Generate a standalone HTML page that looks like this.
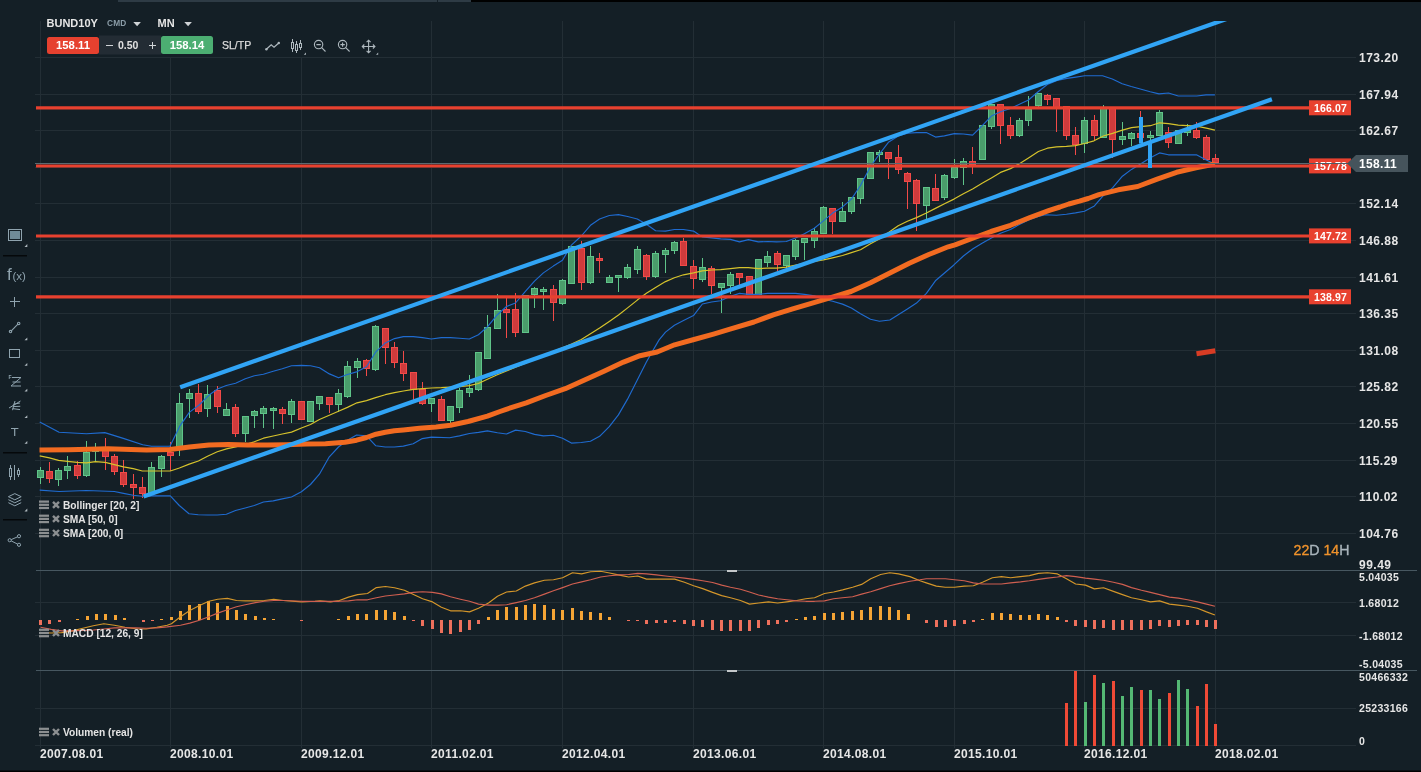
<!DOCTYPE html>
<html lang="en"><head><meta charset="utf-8"><title>BUND10Y MN</title>
<style>html,body{margin:0;padding:0;background:#141f26;overflow:hidden}body{width:1421px;height:772px;position:relative;font-family:"Liberation Sans", Arial, sans-serif}svg{position:absolute;left:0;top:0;display:block;will-change:transform}text{font-family:"Liberation Sans", Arial, sans-serif}</style>
</head><body>
<svg width="1421" height="772" viewBox="0 0 1421 772">
<rect x="0" y="0" width="1421" height="772" fill="#141f26"/>
<rect x="118" y="0" width="319" height="2" fill="#2e3b45"/>
<rect x="438" y="0" width="33" height="2" fill="#2e3b45"/>
<rect x="471" y="0" width="950" height="2" fill="#000"/>
<rect x="0" y="770" width="1421" height="1" fill="#0a1014"/>
<rect x="0" y="771" width="1421" height="1" fill="#000"/>
<g stroke="#232e35" stroke-width="1" shape-rendering="crispEdges">
<line x1="40.5" y1="21" x2="40.5" y2="748"/>
<line x1="170.5" y1="21" x2="170.5" y2="748"/>
<line x1="301.5" y1="21" x2="301.5" y2="748"/>
<line x1="431.5" y1="21" x2="431.5" y2="748"/>
<line x1="562.5" y1="21" x2="562.5" y2="748"/>
<line x1="693.5" y1="21" x2="693.5" y2="748"/>
<line x1="823.5" y1="21" x2="823.5" y2="748"/>
<line x1="954.5" y1="21" x2="954.5" y2="748"/>
<line x1="1084.5" y1="21" x2="1084.5" y2="748"/>
<line x1="1215.5" y1="21" x2="1215.5" y2="748"/>
<line x1="35" y1="57.5" x2="1356" y2="57.5"/>
<line x1="35" y1="94.5" x2="1356" y2="94.5"/>
<line x1="35" y1="130.5" x2="1356" y2="130.5"/>
<line x1="35" y1="167.5" x2="1356" y2="167.5"/>
<line x1="35" y1="203.5" x2="1356" y2="203.5"/>
<line x1="35" y1="240.5" x2="1356" y2="240.5"/>
<line x1="35" y1="277.5" x2="1356" y2="277.5"/>
<line x1="35" y1="313.5" x2="1356" y2="313.5"/>
<line x1="35" y1="350.5" x2="1356" y2="350.5"/>
<line x1="35" y1="386.5" x2="1356" y2="386.5"/>
<line x1="35" y1="423.5" x2="1356" y2="423.5"/>
<line x1="35" y1="460.5" x2="1356" y2="460.5"/>
<line x1="35" y1="496.5" x2="1356" y2="496.5"/>
<line x1="35" y1="533.5" x2="1356" y2="533.5"/>
<line x1="35" y1="602.5" x2="1356" y2="602.5"/>
<line x1="35" y1="635.5" x2="1356" y2="635.5"/>
<line x1="35" y1="708.5" x2="1356" y2="708.5"/>
<line x1="35" y1="745.5" x2="1356" y2="745.5"/>
</g>
<g stroke="#475760" stroke-width="1" shape-rendering="crispEdges">
<line x1="36" y1="570.5" x2="1417" y2="570.5"/>
<line x1="36" y1="670.5" x2="1417" y2="670.5"/>
</g>
<rect x="727" y="570" width="10" height="2" fill="#c4c8ca"/>
<rect x="727" y="670" width="10" height="2" fill="#c4c8ca"/>
<defs><clipPath id="mc"><rect x="35" y="21" width="1330" height="549"/></clipPath></defs>
<g clip-path="url(#mc)">
<g shape-rendering="crispEdges">
<rect x="40" y="467" width="1" height="17" fill="#5fc489"/>
<rect x="37.5" y="470.5" width="6" height="7" fill="#4a9d6b" stroke="#5fc489" stroke-width="1"/>
<rect x="49" y="462" width="1" height="21" fill="#f24a48"/>
<rect x="46.5" y="471.5" width="6" height="7" fill="#d03b3c" stroke="#f24a48" stroke-width="1"/>
<rect x="58" y="468" width="1" height="18" fill="#5fc489"/>
<rect x="55.5" y="470.5" width="6" height="9" fill="#4a9d6b" stroke="#5fc489" stroke-width="1"/>
<rect x="67" y="456" width="1" height="23" fill="#5fc489"/>
<rect x="64.5" y="466.5" width="6" height="4" fill="#4a9d6b" stroke="#5fc489" stroke-width="1"/>
<rect x="77" y="461" width="1" height="18" fill="#f24a48"/>
<rect x="74.5" y="465.5" width="6" height="10" fill="#d03b3c" stroke="#f24a48" stroke-width="1"/>
<rect x="86" y="441" width="1" height="36" fill="#5fc489"/>
<rect x="83.5" y="452.5" width="6" height="23" fill="#4a9d6b" stroke="#5fc489" stroke-width="1"/>
<rect x="95" y="443" width="1" height="18" fill="#5fc489"/>
<rect x="92.5" y="449.5" width="6" height="2" fill="#4a9d6b" stroke="#5fc489" stroke-width="1"/>
<rect x="105" y="438" width="1" height="32" fill="#f24a48"/>
<rect x="102.5" y="447.5" width="6" height="9" fill="#d03b3c" stroke="#f24a48" stroke-width="1"/>
<rect x="114" y="454" width="1" height="21" fill="#f24a48"/>
<rect x="111.5" y="456.5" width="6" height="15" fill="#d03b3c" stroke="#f24a48" stroke-width="1"/>
<rect x="123" y="460" width="1" height="27" fill="#f24a48"/>
<rect x="120.5" y="472.5" width="6" height="12" fill="#d03b3c" stroke="#f24a48" stroke-width="1"/>
<rect x="133" y="474" width="1" height="25" fill="#f24a48"/>
<rect x="130.5" y="484.5" width="6" height="3" fill="#d03b3c" stroke="#f24a48" stroke-width="1"/>
<rect x="142" y="477" width="1" height="21" fill="#f24a48"/>
<rect x="139.5" y="487.5" width="6" height="6" fill="#d03b3c" stroke="#f24a48" stroke-width="1"/>
<rect x="151" y="462" width="1" height="32" fill="#5fc489"/>
<rect x="148.5" y="467.5" width="6" height="26" fill="#4a9d6b" stroke="#5fc489" stroke-width="1"/>
<rect x="161" y="455" width="1" height="22" fill="#5fc489"/>
<rect x="158.5" y="456.5" width="6" height="12" fill="#4a9d6b" stroke="#5fc489" stroke-width="1"/>
<rect x="170" y="442" width="1" height="29" fill="#f24a48"/>
<rect x="167.5" y="452.5" width="6" height="3" fill="#d03b3c" stroke="#f24a48" stroke-width="1"/>
<rect x="179" y="393" width="1" height="63" fill="#5fc489"/>
<rect x="176.5" y="403.5" width="6" height="43" fill="#4a9d6b" stroke="#5fc489" stroke-width="1"/>
<rect x="189" y="389" width="1" height="29" fill="#5fc489"/>
<rect x="186.5" y="393.5" width="6" height="5" fill="#4a9d6b" stroke="#5fc489" stroke-width="1"/>
<rect x="198" y="384" width="1" height="30" fill="#f24a48"/>
<rect x="195.5" y="393.5" width="6" height="18" fill="#d03b3c" stroke="#f24a48" stroke-width="1"/>
<rect x="207" y="385" width="1" height="32" fill="#5fc489"/>
<rect x="204.5" y="394.5" width="6" height="14" fill="#4a9d6b" stroke="#5fc489" stroke-width="1"/>
<rect x="217" y="386" width="1" height="27" fill="#f24a48"/>
<rect x="214.5" y="390.5" width="6" height="16" fill="#d03b3c" stroke="#f24a48" stroke-width="1"/>
<rect x="226" y="403" width="1" height="13" fill="#5fc489"/>
<rect x="223.5" y="409.5" width="6" height="6" fill="#4a9d6b" stroke="#5fc489" stroke-width="1"/>
<rect x="235" y="404" width="1" height="33" fill="#f24a48"/>
<rect x="232.5" y="407.5" width="6" height="26" fill="#d03b3c" stroke="#f24a48" stroke-width="1"/>
<rect x="245" y="416" width="1" height="26" fill="#5fc489"/>
<rect x="242.5" y="416.5" width="6" height="17" fill="#4a9d6b" stroke="#5fc489" stroke-width="1"/>
<rect x="254" y="410" width="1" height="18" fill="#5fc489"/>
<rect x="251.5" y="411.5" width="6" height="4" fill="#4a9d6b" stroke="#5fc489" stroke-width="1"/>
<rect x="263" y="406" width="1" height="22" fill="#5fc489"/>
<rect x="260.5" y="408.5" width="6" height="5" fill="#4a9d6b" stroke="#5fc489" stroke-width="1"/>
<rect x="273" y="407" width="1" height="22" fill="#5fc489"/>
<rect x="270.5" y="408.5" width="6" height="2" fill="#4a9d6b" stroke="#5fc489" stroke-width="1"/>
<rect x="282" y="407" width="1" height="17" fill="#f24a48"/>
<rect x="279.5" y="409.5" width="6" height="4" fill="#d03b3c" stroke="#f24a48" stroke-width="1"/>
<rect x="291" y="399" width="1" height="24" fill="#5fc489"/>
<rect x="288.5" y="401.5" width="6" height="13" fill="#4a9d6b" stroke="#5fc489" stroke-width="1"/>
<rect x="301" y="401" width="1" height="19" fill="#f24a48"/>
<rect x="298.5" y="401.5" width="6" height="18" fill="#d03b3c" stroke="#f24a48" stroke-width="1"/>
<rect x="310" y="401" width="1" height="21" fill="#5fc489"/>
<rect x="307.5" y="401.5" width="6" height="20" fill="#4a9d6b" stroke="#5fc489" stroke-width="1"/>
<rect x="319" y="396" width="1" height="14" fill="#5fc489"/>
<rect x="316.5" y="396.5" width="6" height="7" fill="#4a9d6b" stroke="#5fc489" stroke-width="1"/>
<rect x="329" y="397" width="1" height="16" fill="#f24a48"/>
<rect x="326.5" y="397.5" width="6" height="7" fill="#d03b3c" stroke="#f24a48" stroke-width="1"/>
<rect x="338" y="389" width="1" height="23" fill="#5fc489"/>
<rect x="335.5" y="393.5" width="6" height="11" fill="#4a9d6b" stroke="#5fc489" stroke-width="1"/>
<rect x="347" y="361" width="1" height="37" fill="#5fc489"/>
<rect x="344.5" y="366.5" width="6" height="30" fill="#4a9d6b" stroke="#5fc489" stroke-width="1"/>
<rect x="357" y="358" width="1" height="20" fill="#5fc489"/>
<rect x="354.5" y="361.5" width="6" height="6" fill="#4a9d6b" stroke="#5fc489" stroke-width="1"/>
<rect x="366" y="359" width="1" height="17" fill="#f24a48"/>
<rect x="363.5" y="360.5" width="6" height="8" fill="#d03b3c" stroke="#f24a48" stroke-width="1"/>
<rect x="375" y="325" width="1" height="46" fill="#5fc489"/>
<rect x="372.5" y="326.5" width="6" height="43" fill="#4a9d6b" stroke="#5fc489" stroke-width="1"/>
<rect x="385" y="328" width="1" height="36" fill="#f24a48"/>
<rect x="382.5" y="328.5" width="6" height="19" fill="#d03b3c" stroke="#f24a48" stroke-width="1"/>
<rect x="394" y="342" width="1" height="26" fill="#f24a48"/>
<rect x="391.5" y="347.5" width="6" height="15" fill="#d03b3c" stroke="#f24a48" stroke-width="1"/>
<rect x="403" y="351" width="1" height="30" fill="#f24a48"/>
<rect x="400.5" y="363.5" width="6" height="10" fill="#d03b3c" stroke="#f24a48" stroke-width="1"/>
<rect x="413" y="372" width="1" height="28" fill="#f24a48"/>
<rect x="410.5" y="372.5" width="6" height="17" fill="#d03b3c" stroke="#f24a48" stroke-width="1"/>
<rect x="422" y="382" width="1" height="23" fill="#f24a48"/>
<rect x="419.5" y="389.5" width="6" height="14" fill="#d03b3c" stroke="#f24a48" stroke-width="1"/>
<rect x="431" y="398" width="1" height="14" fill="#5fc489"/>
<rect x="428.5" y="398.5" width="6" height="5" fill="#4a9d6b" stroke="#5fc489" stroke-width="1"/>
<rect x="441" y="396" width="1" height="25" fill="#f24a48"/>
<rect x="438.5" y="399.5" width="6" height="21" fill="#d03b3c" stroke="#f24a48" stroke-width="1"/>
<rect x="450" y="406" width="1" height="17" fill="#5fc489"/>
<rect x="447.5" y="406.5" width="6" height="14" fill="#4a9d6b" stroke="#5fc489" stroke-width="1"/>
<rect x="459" y="388" width="1" height="25" fill="#5fc489"/>
<rect x="456.5" y="390.5" width="6" height="17" fill="#4a9d6b" stroke="#5fc489" stroke-width="1"/>
<rect x="469" y="375" width="1" height="22" fill="#5fc489"/>
<rect x="466.5" y="388.5" width="6" height="4" fill="#4a9d6b" stroke="#5fc489" stroke-width="1"/>
<rect x="478" y="352" width="1" height="39" fill="#5fc489"/>
<rect x="475.5" y="352.5" width="6" height="37" fill="#4a9d6b" stroke="#5fc489" stroke-width="1"/>
<rect x="487" y="315" width="1" height="44" fill="#5fc489"/>
<rect x="484.5" y="327.5" width="6" height="31" fill="#4a9d6b" stroke="#5fc489" stroke-width="1"/>
<rect x="497" y="294" width="1" height="35" fill="#5fc489"/>
<rect x="494.5" y="310.5" width="6" height="18" fill="#4a9d6b" stroke="#5fc489" stroke-width="1"/>
<rect x="506" y="298" width="1" height="40" fill="#f24a48"/>
<rect x="503.5" y="309.5" width="6" height="3" fill="#d03b3c" stroke="#f24a48" stroke-width="1"/>
<rect x="515" y="293" width="1" height="44" fill="#f24a48"/>
<rect x="512.5" y="309.5" width="6" height="23" fill="#d03b3c" stroke="#f24a48" stroke-width="1"/>
<rect x="525" y="295" width="1" height="38" fill="#5fc489"/>
<rect x="522.5" y="295.5" width="6" height="37" fill="#4a9d6b" stroke="#5fc489" stroke-width="1"/>
<rect x="534" y="287" width="1" height="21" fill="#5fc489"/>
<rect x="531.5" y="288.5" width="6" height="6" fill="#4a9d6b" stroke="#5fc489" stroke-width="1"/>
<rect x="543" y="287" width="1" height="23" fill="#5fc489"/>
<rect x="540.5" y="289.5" width="6" height="2" fill="#4a9d6b" stroke="#5fc489" stroke-width="1"/>
<rect x="553" y="285" width="1" height="36" fill="#f24a48"/>
<rect x="550.5" y="289.5" width="6" height="13" fill="#d03b3c" stroke="#f24a48" stroke-width="1"/>
<rect x="562" y="279" width="1" height="26" fill="#5fc489"/>
<rect x="559.5" y="280.5" width="6" height="23" fill="#4a9d6b" stroke="#5fc489" stroke-width="1"/>
<rect x="571" y="246" width="1" height="38" fill="#5fc489"/>
<rect x="568.5" y="246.5" width="6" height="37" fill="#4a9d6b" stroke="#5fc489" stroke-width="1"/>
<rect x="581" y="241" width="1" height="49" fill="#f24a48"/>
<rect x="578.5" y="248.5" width="6" height="34" fill="#d03b3c" stroke="#f24a48" stroke-width="1"/>
<rect x="590" y="246" width="1" height="38" fill="#5fc489"/>
<rect x="587.5" y="256.5" width="6" height="26" fill="#4a9d6b" stroke="#5fc489" stroke-width="1"/>
<rect x="599" y="253" width="1" height="20" fill="#f24a48"/>
<rect x="596.5" y="258.5" width="6" height="2" fill="#d03b3c" stroke="#f24a48" stroke-width="1"/>
<rect x="609" y="275" width="1" height="8" fill="#5fc489"/>
<rect x="606.5" y="277.5" width="6" height="5" fill="#4a9d6b" stroke="#5fc489" stroke-width="1"/>
<rect x="618" y="275" width="1" height="17" fill="#5fc489"/>
<rect x="615.5" y="275.5" width="6" height="2" fill="#4a9d6b" stroke="#5fc489" stroke-width="1"/>
<rect x="627" y="264" width="1" height="15" fill="#5fc489"/>
<rect x="624.5" y="267.5" width="6" height="10" fill="#4a9d6b" stroke="#5fc489" stroke-width="1"/>
<rect x="637" y="246" width="1" height="28" fill="#5fc489"/>
<rect x="634.5" y="249.5" width="6" height="20" fill="#4a9d6b" stroke="#5fc489" stroke-width="1"/>
<rect x="646" y="254" width="1" height="26" fill="#f24a48"/>
<rect x="643.5" y="255.5" width="6" height="21" fill="#d03b3c" stroke="#f24a48" stroke-width="1"/>
<rect x="655" y="251" width="1" height="27" fill="#5fc489"/>
<rect x="652.5" y="253.5" width="6" height="23" fill="#4a9d6b" stroke="#5fc489" stroke-width="1"/>
<rect x="665" y="248" width="1" height="25" fill="#5fc489"/>
<rect x="662.5" y="250.5" width="6" height="4" fill="#4a9d6b" stroke="#5fc489" stroke-width="1"/>
<rect x="674" y="241" width="1" height="13" fill="#5fc489"/>
<rect x="671.5" y="242.5" width="6" height="8" fill="#4a9d6b" stroke="#5fc489" stroke-width="1"/>
<rect x="683" y="238" width="1" height="28" fill="#f24a48"/>
<rect x="680.5" y="241.5" width="6" height="24" fill="#d03b3c" stroke="#f24a48" stroke-width="1"/>
<rect x="693" y="260" width="1" height="29" fill="#f24a48"/>
<rect x="690.5" y="266.5" width="6" height="12" fill="#d03b3c" stroke="#f24a48" stroke-width="1"/>
<rect x="702" y="258" width="1" height="24" fill="#5fc489"/>
<rect x="699.5" y="267.5" width="6" height="12" fill="#4a9d6b" stroke="#5fc489" stroke-width="1"/>
<rect x="711" y="266" width="1" height="28" fill="#f24a48"/>
<rect x="708.5" y="268.5" width="6" height="17" fill="#d03b3c" stroke="#f24a48" stroke-width="1"/>
<rect x="721" y="283" width="1" height="30" fill="#5fc489"/>
<rect x="718.5" y="283.5" width="6" height="4" fill="#4a9d6b" stroke="#5fc489" stroke-width="1"/>
<rect x="730" y="272" width="1" height="22" fill="#5fc489"/>
<rect x="727.5" y="274.5" width="6" height="11" fill="#4a9d6b" stroke="#5fc489" stroke-width="1"/>
<rect x="739" y="273" width="1" height="12" fill="#f24a48"/>
<rect x="736.5" y="273.5" width="6" height="4" fill="#d03b3c" stroke="#f24a48" stroke-width="1"/>
<rect x="749" y="276" width="1" height="19" fill="#f24a48"/>
<rect x="746.5" y="276.5" width="6" height="18" fill="#d03b3c" stroke="#f24a48" stroke-width="1"/>
<rect x="758" y="259" width="1" height="36" fill="#5fc489"/>
<rect x="755.5" y="259.5" width="6" height="35" fill="#4a9d6b" stroke="#5fc489" stroke-width="1"/>
<rect x="767" y="251" width="1" height="16" fill="#5fc489"/>
<rect x="764.5" y="256.5" width="6" height="6" fill="#4a9d6b" stroke="#5fc489" stroke-width="1"/>
<rect x="777" y="251" width="1" height="20" fill="#f24a48"/>
<rect x="774.5" y="253.5" width="6" height="11" fill="#d03b3c" stroke="#f24a48" stroke-width="1"/>
<rect x="786" y="255" width="1" height="13" fill="#5fc489"/>
<rect x="783.5" y="255.5" width="6" height="10" fill="#4a9d6b" stroke="#5fc489" stroke-width="1"/>
<rect x="795" y="239" width="1" height="21" fill="#5fc489"/>
<rect x="792.5" y="240.5" width="6" height="16" fill="#4a9d6b" stroke="#5fc489" stroke-width="1"/>
<rect x="804" y="238" width="1" height="22" fill="#5fc489"/>
<rect x="801.5" y="238.5" width="6" height="4" fill="#4a9d6b" stroke="#5fc489" stroke-width="1"/>
<rect x="814" y="228" width="1" height="20" fill="#5fc489"/>
<rect x="811.5" y="231.5" width="6" height="9" fill="#4a9d6b" stroke="#5fc489" stroke-width="1"/>
<rect x="823" y="206" width="1" height="28" fill="#5fc489"/>
<rect x="820.5" y="207.5" width="6" height="26" fill="#4a9d6b" stroke="#5fc489" stroke-width="1"/>
<rect x="832" y="208" width="1" height="26" fill="#f24a48"/>
<rect x="829.5" y="208.5" width="6" height="13" fill="#d03b3c" stroke="#f24a48" stroke-width="1"/>
<rect x="842" y="202" width="1" height="20" fill="#5fc489"/>
<rect x="839.5" y="211.5" width="6" height="10" fill="#4a9d6b" stroke="#5fc489" stroke-width="1"/>
<rect x="851" y="197" width="1" height="17" fill="#5fc489"/>
<rect x="848.5" y="197.5" width="6" height="14" fill="#4a9d6b" stroke="#5fc489" stroke-width="1"/>
<rect x="860" y="178" width="1" height="26" fill="#5fc489"/>
<rect x="857.5" y="178.5" width="6" height="20" fill="#4a9d6b" stroke="#5fc489" stroke-width="1"/>
<rect x="870" y="152" width="1" height="27" fill="#5fc489"/>
<rect x="867.5" y="152.5" width="6" height="26" fill="#4a9d6b" stroke="#5fc489" stroke-width="1"/>
<rect x="879" y="150" width="1" height="12" fill="#5fc489"/>
<rect x="876.5" y="152.5" width="6" height="2" fill="#4a9d6b" stroke="#5fc489" stroke-width="1"/>
<rect x="888" y="152" width="1" height="27" fill="#f24a48"/>
<rect x="885.5" y="152.5" width="6" height="6" fill="#d03b3c" stroke="#f24a48" stroke-width="1"/>
<rect x="898" y="145" width="1" height="29" fill="#f24a48"/>
<rect x="895.5" y="157.5" width="6" height="12" fill="#d03b3c" stroke="#f24a48" stroke-width="1"/>
<rect x="907" y="172" width="1" height="37" fill="#f24a48"/>
<rect x="904.5" y="173.5" width="6" height="8" fill="#d03b3c" stroke="#f24a48" stroke-width="1"/>
<rect x="916" y="179" width="1" height="52" fill="#f24a48"/>
<rect x="913.5" y="180.5" width="6" height="23" fill="#d03b3c" stroke="#f24a48" stroke-width="1"/>
<rect x="926" y="187" width="1" height="32" fill="#5fc489"/>
<rect x="923.5" y="187.5" width="6" height="18" fill="#4a9d6b" stroke="#5fc489" stroke-width="1"/>
<rect x="935" y="174" width="1" height="27" fill="#f24a48"/>
<rect x="932.5" y="188.5" width="6" height="12" fill="#d03b3c" stroke="#f24a48" stroke-width="1"/>
<rect x="944" y="174" width="1" height="26" fill="#5fc489"/>
<rect x="941.5" y="175.5" width="6" height="22" fill="#4a9d6b" stroke="#5fc489" stroke-width="1"/>
<rect x="954" y="159" width="1" height="20" fill="#5fc489"/>
<rect x="951.5" y="167.5" width="6" height="10" fill="#4a9d6b" stroke="#5fc489" stroke-width="1"/>
<rect x="963" y="158" width="1" height="27" fill="#5fc489"/>
<rect x="960.5" y="161.5" width="6" height="6" fill="#4a9d6b" stroke="#5fc489" stroke-width="1"/>
<rect x="972" y="147" width="1" height="27" fill="#f24a48"/>
<rect x="969.5" y="161.5" width="6" height="3" fill="#d03b3c" stroke="#f24a48" stroke-width="1"/>
<rect x="982" y="125" width="1" height="35" fill="#5fc489"/>
<rect x="979.5" y="125.5" width="6" height="34" fill="#4a9d6b" stroke="#5fc489" stroke-width="1"/>
<rect x="991" y="104" width="1" height="25" fill="#5fc489"/>
<rect x="988.5" y="104.5" width="6" height="22" fill="#4a9d6b" stroke="#5fc489" stroke-width="1"/>
<rect x="1000" y="104" width="1" height="40" fill="#f24a48"/>
<rect x="997.5" y="104.5" width="6" height="21" fill="#d03b3c" stroke="#f24a48" stroke-width="1"/>
<rect x="1010" y="117" width="1" height="22" fill="#f24a48"/>
<rect x="1007.5" y="125.5" width="6" height="10" fill="#d03b3c" stroke="#f24a48" stroke-width="1"/>
<rect x="1019" y="118" width="1" height="19" fill="#5fc489"/>
<rect x="1016.5" y="120.5" width="6" height="15" fill="#4a9d6b" stroke="#5fc489" stroke-width="1"/>
<rect x="1028" y="96" width="1" height="30" fill="#5fc489"/>
<rect x="1025.5" y="109.5" width="6" height="11" fill="#4a9d6b" stroke="#5fc489" stroke-width="1"/>
<rect x="1038" y="93" width="1" height="16" fill="#5fc489"/>
<rect x="1035.5" y="93.5" width="6" height="12" fill="#4a9d6b" stroke="#5fc489" stroke-width="1"/>
<rect x="1047" y="94" width="1" height="11" fill="#f24a48"/>
<rect x="1044.5" y="95.5" width="6" height="4" fill="#d03b3c" stroke="#f24a48" stroke-width="1"/>
<rect x="1056" y="98" width="1" height="34" fill="#f24a48"/>
<rect x="1053.5" y="98.5" width="6" height="10" fill="#d03b3c" stroke="#f24a48" stroke-width="1"/>
<rect x="1066" y="106" width="1" height="34" fill="#f24a48"/>
<rect x="1063.5" y="106.5" width="6" height="29" fill="#d03b3c" stroke="#f24a48" stroke-width="1"/>
<rect x="1075" y="127" width="1" height="28" fill="#f24a48"/>
<rect x="1072.5" y="135.5" width="6" height="9" fill="#d03b3c" stroke="#f24a48" stroke-width="1"/>
<rect x="1084" y="117" width="1" height="36" fill="#5fc489"/>
<rect x="1081.5" y="120.5" width="6" height="23" fill="#4a9d6b" stroke="#5fc489" stroke-width="1"/>
<rect x="1094" y="115" width="1" height="25" fill="#f24a48"/>
<rect x="1091.5" y="120.5" width="6" height="15" fill="#d03b3c" stroke="#f24a48" stroke-width="1"/>
<rect x="1103" y="105" width="1" height="33" fill="#5fc489"/>
<rect x="1100.5" y="108.5" width="6" height="29" fill="#4a9d6b" stroke="#5fc489" stroke-width="1"/>
<rect x="1112" y="108" width="1" height="50" fill="#f24a48"/>
<rect x="1109.5" y="108.5" width="6" height="31" fill="#d03b3c" stroke="#f24a48" stroke-width="1"/>
<rect x="1122" y="122" width="1" height="23" fill="#5fc489"/>
<rect x="1119.5" y="136.5" width="6" height="3" fill="#4a9d6b" stroke="#5fc489" stroke-width="1"/>
<rect x="1131" y="132" width="1" height="14" fill="#5fc489"/>
<rect x="1128.5" y="133.5" width="6" height="5" fill="#4a9d6b" stroke="#5fc489" stroke-width="1"/>
<rect x="1140" y="111" width="1" height="32" fill="#f24a48"/>
<rect x="1137.5" y="133.5" width="6" height="4" fill="#d03b3c" stroke="#f24a48" stroke-width="1"/>
<rect x="1150" y="131" width="1" height="9" fill="#5fc489"/>
<rect x="1147.5" y="135.5" width="6" height="2" fill="#4a9d6b" stroke="#5fc489" stroke-width="1"/>
<rect x="1159" y="110" width="1" height="26" fill="#5fc489"/>
<rect x="1156.5" y="112.5" width="6" height="23" fill="#4a9d6b" stroke="#5fc489" stroke-width="1"/>
<rect x="1168" y="127" width="1" height="21" fill="#f24a48"/>
<rect x="1165.5" y="132.5" width="6" height="10" fill="#d03b3c" stroke="#f24a48" stroke-width="1"/>
<rect x="1178" y="130" width="1" height="14" fill="#5fc489"/>
<rect x="1175.5" y="130.5" width="6" height="13" fill="#4a9d6b" stroke="#5fc489" stroke-width="1"/>
<rect x="1187" y="124" width="1" height="12" fill="#5fc489"/>
<rect x="1184.5" y="130.5" width="6" height="2" fill="#4a9d6b" stroke="#5fc489" stroke-width="1"/>
<rect x="1196" y="122" width="1" height="17" fill="#f24a48"/>
<rect x="1193.5" y="130.5" width="6" height="7" fill="#d03b3c" stroke="#f24a48" stroke-width="1"/>
<rect x="1206" y="135" width="1" height="25" fill="#f24a48"/>
<rect x="1203.5" y="137.5" width="6" height="22" fill="#d03b3c" stroke="#f24a48" stroke-width="1"/>
<rect x="1215" y="154" width="1" height="9" fill="#f24a48"/>
<rect x="1212.5" y="158.5" width="6" height="4" fill="#d03b3c" stroke="#f24a48" stroke-width="1"/>
</g>
<polyline points="39.7,422.1 59.1,432.2 86.4,433.7 104.8,432.6 123.3,438.4 142.7,444.8 151.5,446.2 170.0,446.2 179.6,426.4 189.3,412.4 199.1,405.0 208.8,395.3 217.5,389.0 226.3,385.5 235.6,383.2 245.3,378.7 254.4,375.8 263.4,374.3 273.2,371.2 282.3,368.7 291.5,365.8 301.4,365.4 310.5,365.8 319.5,367.7 329.4,373.9 338.5,377.8 347.4,374.5 357.4,371.6 366.5,366.8 375.6,352.2 385.3,342.9 394.5,338.6 403.4,336.6 413.3,336.6 422.5,337.6 431.4,339.0 441.3,337.6 450.4,337.6 459.6,338.2 469.3,339.0 478.4,334.7 487.4,326.9 497.4,314.7 506.5,306.5 515.5,303.0 525.4,291.3 534.5,281.2 543.4,272.9 553.3,266.1 562.5,260.2 571.4,245.1 581.3,236.0 590.5,225.3 599.6,219.0 609.3,215.5 618.5,214.6 627.6,216.5 637.3,219.0 646.4,224.3 655.6,230.7 665.5,231.1 674.4,229.5 683.5,229.5 693.5,231.1 702.4,236.9 711.5,237.9 720.7,238.9 730.5,239.4 739.5,241.9 748.4,239.6 758.3,241.9 767.5,241.5 776.4,241.9 786.3,241.5 795.5,238.0 804.4,233.7 814.3,228.3 823.4,220.9 832.6,213.1 842.5,206.9 851.4,199.1 860.5,185.5 870.5,166.6 879.5,154.0 888.4,142.3 898.3,135.9 907.5,133.2 916.4,132.6 926.3,132.6 935.5,137.1 944.4,135.9 954.3,133.6 963.4,134.0 972.6,135.1 982.5,125.4 991.4,116.1 1000.5,111.8 1010.5,108.5 1019.4,104.3 1028.5,100.0 1038.4,91.5 1047.3,84.5 1057.1,80.4 1067.0,78.4 1075.9,77.1 1084.7,75.7 1094.6,75.7 1102.5,75.7 1112.3,79.0 1122.2,83.7 1131.2,86.5 1140.3,89.0 1150.2,91.8 1159.0,93.9 1168.5,93.0 1178.3,96.0 1187.4,96.0 1196.8,96.0 1206.1,94.9 1214.9,94.9" fill="none" stroke="#1f6bd0" stroke-width="1.15" stroke-linejoin="round"/>
<polyline points="39.7,490.1 59.1,491.5 86.4,490.5 114.3,491.5 123.5,493.4 133.2,495.3 142.3,496.3 151.5,495.9 170.3,495.8 179.3,505.5 189.0,513.7 198.2,514.7 207.5,515.0 217.2,515.0 226.4,514.3 235.5,510.5 245.2,508.0 254.3,505.5 263.5,502.0 273.2,500.9 282.3,498.9 291.5,497.0 301.4,491.7 310.5,484.5 319.4,474.2 329.3,456.8 338.5,447.0 347.4,440.2 356.6,435.0 366.5,435.8 375.6,445.7 385.3,447.0 394.4,447.0 403.4,446.1 413.2,443.7 422.3,438.6 431.5,437.1 449.6,437.8 459.5,435.9 469.4,433.5 478.5,432.4 487.4,430.9 497.4,432.8 506.5,434.0 515.6,430.1 525.3,431.5 534.5,434.4 543.4,435.9 553.3,435.3 562.5,438.3 571.4,443.1 581.3,442.5 590.4,441.2 599.6,436.3 609.3,426.6 618.4,414.9 627.4,399.4 637.3,380.0 646.4,362.0 653.2,350.0 659.1,339.9 665.5,332.1 674.4,325.3 683.5,320.5 693.5,315.6 702.4,304.0 711.5,302.0 720.6,300.7 730.5,296.3 739.5,293.4 748.4,294.4 758.3,294.4 767.5,293.4 776.4,293.4 786.3,293.4 795.5,293.4 804.4,294.4 814.3,295.9 823.4,299.2 832.6,301.2 842.5,304.1 851.4,308.0 860.5,313.8 870.5,319.2 879.4,321.3 889.9,320.0 898.2,314.8 907.4,308.9 916.5,303.1 926.4,293.4 935.4,280.8 944.5,273.0 953.6,265.2 963.4,256.0 972.6,249.0 982.5,243.0 991.4,238.0 1000.5,233.3 1010.5,229.5 1019.4,224.5 1028.5,220.0 1038.4,216.5 1045.4,214.8 1056.5,215.2 1066.4,214.2 1075.5,212.9 1084.5,211.2 1094.4,205.9 1103.3,195.6 1112.5,187.9 1122.4,176.2 1131.5,169.4 1140.5,163.9 1150.4,157.7 1159.5,152.9 1168.4,154.8 1178.3,154.8 1187.5,154.8 1196.4,154.8 1206.3,160.1 1211.6,162.6 1215.0,164.0" fill="none" stroke="#1f6bd0" stroke-width="1.15" stroke-linejoin="round"/>
<polyline points="39.7,455.9 49.4,457.8 58.6,460.4 67.5,461.3 77.2,462.3 86.4,462.9 95.5,461.7 105.2,462.3 114.3,464.6 123.5,466.8 133.2,468.7 142.3,471.0 151.5,471.0 161.4,471.0 170.3,471.0 179.4,468.0 189.2,464.1 198.4,461.0 207.5,456.2 217.3,451.8 226.5,448.9 235.6,446.9 245.2,444.5 254.3,441.8 263.5,438.2 273.2,436.0 282.3,434.0 291.5,432.1 301.4,428.0 310.5,424.5 319.4,419.5 329.3,415.3 338.5,411.3 347.4,407.4 357.0,402.8 366.5,400.6 375.6,397.6 385.3,394.7 394.5,392.6 403.4,391.0 413.3,389.3 422.5,388.6 431.4,388.0 441.3,387.7 450.4,387.2 459.6,386.7 469.3,385.6 478.4,383.5 487.4,379.2 497.3,374.8 506.5,371.0 515.5,367.2 525.4,363.1 534.5,359.3 543.4,355.7 553.3,351.6 562.5,347.8 571.5,344.0 581.3,339.5 590.5,333.7 599.6,328.1 609.3,321.4 618.5,315.0 627.6,307.9 637.3,300.1 646.4,293.3 655.6,287.4 665.5,281.6 674.4,277.7 683.5,274.8 693.5,272.9 702.4,270.9 711.5,270.0 720.7,269.6 730.5,268.7 739.5,267.7 748.4,267.7 758.3,268.7 767.5,268.1 776.4,268.1 786.3,267.2 795.5,265.2 804.4,263.3 814.3,261.3 823.4,259.8 832.6,257.8 842.5,255.5 851.4,252.6 860.5,249.7 870.5,243.8 879.4,239.0 888.5,232.5 898.2,225.7 907.4,221.2 916.5,217.6 926.4,213.0 935.4,208.4 944.5,203.8 954.0,199.1 963.4,193.8 972.6,189.0 982.5,183.1 991.4,177.9 1000.5,172.4 1010.5,168.6 1019.4,163.7 1028.5,157.9 1038.4,151.5 1047.4,148.2 1056.5,146.8 1066.4,146.4 1075.4,145.6 1084.5,143.5 1094.0,140.8 1103.3,136.0 1112.5,133.4 1122.4,130.1 1131.5,127.6 1140.5,126.6 1150.4,125.7 1159.5,122.8 1168.4,123.7 1178.3,125.1 1187.5,125.7 1196.4,126.2 1206.3,128.2 1214.9,130.1" fill="none" stroke="#d6c32c" stroke-width="1.2" stroke-linejoin="round"/>
<polyline points="39.5,450.1 68.9,449.7 107.7,448.7 146.6,450.1 170.0,449.6 189.4,447.0 208.9,445.1 228.3,444.5 247.7,445.1 267.2,445.1 286.6,444.7 306.0,444.1 325.5,443.7 344.9,442.3 356.6,440.2 366.5,437.5 376.0,434.2 385.3,432.3 394.4,430.7 403.4,429.9 419.4,428.3 436.0,426.9 450.5,425.2 468.0,421.5 487.4,416.1 500.0,411.5 506.9,409.1 526.3,402.9 545.7,395.5 565.2,388.7 584.6,380.0 604.0,371.2 623.5,362.1 640.0,355.7 657.1,352.0 674.6,344.8 694.0,339.5 713.5,334.1 730.0,329.2 754.0,322.0 773.3,314.8 792.7,308.9 812.2,303.1 831.6,297.3 851.0,291.5 870.5,282.7 889.9,273.0 909.3,263.3 928.8,254.5 948.2,246.8 955.0,244.8 972.0,238.5 991.0,231.5 1010.5,225.3 1029.9,217.5 1049.3,210.3 1060.0,207.0 1068.8,204.0 1079.4,201.2 1088.2,198.5 1098.9,194.7 1118.3,189.8 1137.7,186.5 1157.2,179.1 1176.6,172.3 1196.0,167.8 1214.9,164.0" fill="none" stroke="#f26b21" stroke-width="5" stroke-linejoin="round" stroke-linecap="butt"/>
<line x1="1196.5" y1="353.8" x2="1215.3" y2="350.8" stroke="#d83c24" stroke-width="5"/>
<line x1="35" y1="163.5" x2="1356" y2="163.5" stroke="#5b6a72" stroke-width="1" shape-rendering="crispEdges"/>
<line x1="36" y1="107.9" x2="1310" y2="107.9" stroke="#e8412f" stroke-width="3.2"/>
<line x1="36" y1="166.0" x2="1310" y2="166.0" stroke="#e8412f" stroke-width="3.2"/>
<line x1="36" y1="236.0" x2="1310" y2="236.0" stroke="#e8412f" stroke-width="3.2"/>
<line x1="36" y1="296.9" x2="1310" y2="296.9" stroke="#e8412f" stroke-width="3.2"/>
<line x1="180.2" y1="387.2" x2="1260.0" y2="7.2" stroke="#31a4f5" stroke-width="4.2"/>
<line x1="143.6" y1="496.4" x2="1271.9" y2="99.3" stroke="#31a4f5" stroke-width="4.2"/>
<rect x="1139" y="117" width="4" height="26.5" fill="#31a4f5"/>
<rect x="1148" y="141" width="4" height="27" fill="#31a4f5"/>
</g>
<g shape-rendering="crispEdges">
<rect x="39" y="620" width="3" height="5" fill="#ee705c"/>
<rect x="48" y="620" width="3" height="4" fill="#ee705c"/>
<rect x="58" y="620" width="3" height="2" fill="#ee705c"/>
<rect x="76" y="619" width="3" height="1" fill="#f5a435"/>
<rect x="86" y="616" width="3" height="4" fill="#f5a435"/>
<rect x="95" y="614" width="3" height="6" fill="#f5a435"/>
<rect x="104" y="614" width="3" height="6" fill="#f5a435"/>
<rect x="114" y="615" width="3" height="5" fill="#f5a435"/>
<rect x="123" y="618" width="3" height="2" fill="#f5a435"/>
<rect x="142" y="620" width="3" height="2" fill="#ee705c"/>
<rect x="151" y="620" width="3" height="1" fill="#ee705c"/>
<rect x="160" y="619" width="3" height="1" fill="#f5a435"/>
<rect x="170" y="617" width="3" height="3" fill="#f5a435"/>
<rect x="179" y="611" width="3" height="9" fill="#f5a435"/>
<rect x="188" y="605" width="3" height="15" fill="#f5a435"/>
<rect x="198" y="604" width="3" height="16" fill="#f5a435"/>
<rect x="207" y="601" width="3" height="19" fill="#f5a435"/>
<rect x="216" y="603" width="3" height="17" fill="#f5a435"/>
<rect x="226" y="606" width="3" height="14" fill="#f5a435"/>
<rect x="235" y="610" width="3" height="10" fill="#f5a435"/>
<rect x="244" y="614" width="3" height="6" fill="#f5a435"/>
<rect x="254" y="616" width="3" height="4" fill="#f5a435"/>
<rect x="263" y="618" width="3" height="2" fill="#f5a435"/>
<rect x="272" y="619" width="3" height="1" fill="#f5a435"/>
<rect x="300" y="620" width="3" height="1" fill="#ee705c"/>
<rect x="337" y="619" width="3" height="1" fill="#f5a435"/>
<rect x="347" y="616" width="3" height="4" fill="#f5a435"/>
<rect x="356" y="614" width="3" height="6" fill="#f5a435"/>
<rect x="365" y="614" width="3" height="6" fill="#f5a435"/>
<rect x="375" y="610" width="3" height="10" fill="#f5a435"/>
<rect x="384" y="610" width="3" height="10" fill="#f5a435"/>
<rect x="393" y="612" width="3" height="8" fill="#f5a435"/>
<rect x="403" y="616" width="3" height="4" fill="#f5a435"/>
<rect x="412" y="620" width="3" height="1" fill="#ee705c"/>
<rect x="421" y="620" width="3" height="6" fill="#ee705c"/>
<rect x="431" y="620" width="3" height="9" fill="#ee705c"/>
<rect x="440" y="620" width="3" height="13" fill="#ee705c"/>
<rect x="449" y="620" width="3" height="14" fill="#ee705c"/>
<rect x="459" y="620" width="3" height="12" fill="#ee705c"/>
<rect x="468" y="620" width="3" height="10" fill="#ee705c"/>
<rect x="477" y="620" width="3" height="4" fill="#ee705c"/>
<rect x="487" y="617" width="3" height="3" fill="#f5a435"/>
<rect x="496" y="610" width="3" height="10" fill="#f5a435"/>
<rect x="505" y="607" width="3" height="13" fill="#f5a435"/>
<rect x="515" y="607" width="3" height="13" fill="#f5a435"/>
<rect x="524" y="605" width="3" height="15" fill="#f5a435"/>
<rect x="533" y="604" width="3" height="16" fill="#f5a435"/>
<rect x="543" y="605" width="3" height="15" fill="#f5a435"/>
<rect x="552" y="609" width="3" height="11" fill="#f5a435"/>
<rect x="561" y="610" width="3" height="10" fill="#f5a435"/>
<rect x="571" y="608" width="3" height="12" fill="#f5a435"/>
<rect x="580" y="611" width="3" height="9" fill="#f5a435"/>
<rect x="589" y="612" width="3" height="8" fill="#f5a435"/>
<rect x="599" y="613" width="3" height="7" fill="#f5a435"/>
<rect x="608" y="617" width="3" height="3" fill="#f5a435"/>
<rect x="627" y="620" width="3" height="1" fill="#ee705c"/>
<rect x="636" y="620" width="3" height="1" fill="#ee705c"/>
<rect x="645" y="620" width="3" height="4" fill="#ee705c"/>
<rect x="655" y="620" width="3" height="3" fill="#ee705c"/>
<rect x="664" y="620" width="3" height="3" fill="#ee705c"/>
<rect x="673" y="620" width="3" height="2" fill="#ee705c"/>
<rect x="683" y="620" width="3" height="4" fill="#ee705c"/>
<rect x="692" y="620" width="3" height="6" fill="#ee705c"/>
<rect x="701" y="620" width="3" height="7" fill="#ee705c"/>
<rect x="711" y="620" width="3" height="10" fill="#ee705c"/>
<rect x="720" y="620" width="3" height="11" fill="#ee705c"/>
<rect x="729" y="620" width="3" height="11" fill="#ee705c"/>
<rect x="739" y="620" width="3" height="11" fill="#ee705c"/>
<rect x="748" y="620" width="3" height="11" fill="#ee705c"/>
<rect x="757" y="620" width="3" height="8" fill="#ee705c"/>
<rect x="767" y="620" width="3" height="5" fill="#ee705c"/>
<rect x="776" y="620" width="3" height="4" fill="#ee705c"/>
<rect x="785" y="620" width="3" height="2" fill="#ee705c"/>
<rect x="795" y="619" width="3" height="1" fill="#f5a435"/>
<rect x="804" y="617" width="3" height="3" fill="#f5a435"/>
<rect x="813" y="616" width="3" height="4" fill="#f5a435"/>
<rect x="823" y="613" width="3" height="7" fill="#f5a435"/>
<rect x="832" y="613" width="3" height="7" fill="#f5a435"/>
<rect x="841" y="612" width="3" height="8" fill="#f5a435"/>
<rect x="851" y="611" width="3" height="9" fill="#f5a435"/>
<rect x="860" y="610" width="3" height="10" fill="#f5a435"/>
<rect x="869" y="607" width="3" height="13" fill="#f5a435"/>
<rect x="879" y="606" width="3" height="14" fill="#f5a435"/>
<rect x="888" y="607" width="3" height="13" fill="#f5a435"/>
<rect x="897" y="610" width="3" height="10" fill="#f5a435"/>
<rect x="907" y="614" width="3" height="6" fill="#f5a435"/>
<rect x="925" y="620" width="3" height="3" fill="#ee705c"/>
<rect x="935" y="620" width="3" height="7" fill="#ee705c"/>
<rect x="944" y="620" width="3" height="7" fill="#ee705c"/>
<rect x="953" y="620" width="3" height="6" fill="#ee705c"/>
<rect x="963" y="620" width="3" height="4" fill="#ee705c"/>
<rect x="972" y="620" width="3" height="2" fill="#ee705c"/>
<rect x="981" y="619" width="3" height="1" fill="#f5a435"/>
<rect x="991" y="613" width="3" height="7" fill="#f5a435"/>
<rect x="1000" y="613" width="3" height="7" fill="#f5a435"/>
<rect x="1009" y="614" width="3" height="6" fill="#f5a435"/>
<rect x="1019" y="615" width="3" height="5" fill="#f5a435"/>
<rect x="1028" y="615" width="3" height="5" fill="#f5a435"/>
<rect x="1037" y="614" width="3" height="6" fill="#f5a435"/>
<rect x="1046" y="615" width="3" height="5" fill="#f5a435"/>
<rect x="1056" y="617" width="3" height="3" fill="#f5a435"/>
<rect x="1065" y="620" width="3" height="2" fill="#ee705c"/>
<rect x="1074" y="620" width="3" height="6" fill="#ee705c"/>
<rect x="1084" y="620" width="3" height="7" fill="#ee705c"/>
<rect x="1093" y="620" width="3" height="9" fill="#ee705c"/>
<rect x="1102" y="620" width="3" height="8" fill="#ee705c"/>
<rect x="1112" y="620" width="3" height="10" fill="#ee705c"/>
<rect x="1121" y="620" width="3" height="10" fill="#ee705c"/>
<rect x="1130" y="620" width="3" height="10" fill="#ee705c"/>
<rect x="1140" y="620" width="3" height="10" fill="#ee705c"/>
<rect x="1149" y="620" width="3" height="9" fill="#ee705c"/>
<rect x="1158" y="620" width="3" height="6" fill="#ee705c"/>
<rect x="1168" y="620" width="3" height="7" fill="#ee705c"/>
<rect x="1177" y="620" width="3" height="6" fill="#ee705c"/>
<rect x="1186" y="620" width="3" height="5" fill="#ee705c"/>
<rect x="1196" y="620" width="3" height="5" fill="#ee705c"/>
<rect x="1205" y="620" width="3" height="7" fill="#ee705c"/>
<rect x="1214" y="620" width="3" height="9" fill="#ee705c"/>
</g>
<polyline points="40.6,632.6 51.1,633.0 61.7,632.6 72.2,630.9 82.8,628.3 93.3,625.8 103.9,623.7 114.4,625.2 125.0,627.3 135.6,628.8 146.1,629.0 156.7,627.3 167.2,625.2 171.4,623.7 180.5,616.7 189.8,610.4 199.5,605.5 208.8,601.3 217.7,599.2 227.4,598.4 236.5,600.5 245.3,600.9 255.5,600.9 264.3,600.5 273.8,599.2 283.3,600.5 301.7,601.9 315.0,601.3 320.0,600.9 330.6,601.9 339.4,600.5 348.5,597.1 357.6,594.6 367.5,593.5 376.4,587.6 385.4,586.5 394.5,587.8 404.4,590.3 413.5,594.6 422.6,598.8 432.5,601.9 441.4,607.2 450.5,610.8 460.4,610.8 469.5,611.9 478.5,608.3 488.5,603.0 497.5,596.2 506.6,592.0 516.3,591.0 525.4,586.1 534.5,582.9 544.4,580.2 553.5,579.8 562.6,577.7 572.5,572.8 581.6,573.9 590.6,571.8 600.6,571.3 609.6,573.0 619.5,575.1 628.6,577.0 637.7,576.0 646.5,579.1 656.4,579.1 665.5,579.1 674.6,579.1 684.5,582.3 693.6,585.7 702.7,588.6 712.6,592.4 721.7,595.6 730.5,597.7 740.5,600.5 749.5,604.1 758.6,603.0 768.5,601.9 777.6,603.0 786.7,601.9 796.6,600.5 805.7,598.8 814.6,597.7 824.5,593.5 833.6,592.0 842.6,589.9 852.6,587.2 861.6,584.4 870.7,578.7 880.6,574.5 889.7,572.8 898.6,573.9 910.0,576.6 920.0,580.8 926.3,582.9 936.3,586.1 945.3,587.2 954.4,587.2 964.3,586.1 973.4,585.7 982.5,582.3 992.4,577.7 1001.5,576.6 1010.6,577.7 1020.5,576.6 1029.4,575.6 1038.4,573.4 1047.5,572.8 1057.4,573.9 1066.5,578.7 1075.6,584.0 1085.5,585.1 1094.4,588.9 1103.5,587.8 1113.4,591.4 1122.5,594.6 1131.5,597.7 1141.5,599.8 1150.5,601.9 1159.6,600.9 1169.5,604.1 1178.4,605.1 1187.5,606.2 1197.4,608.3 1206.5,611.9 1214.9,615.0" fill="none" stroke="#d4962a" stroke-width="1.15" stroke-linejoin="round"/>
<polyline points="40.6,627.3 51.1,629.4 61.7,630.9 72.2,630.9 82.8,630.4 93.3,630.0 103.9,629.0 114.4,627.9 125.0,627.7 135.6,627.9 146.1,628.3 156.7,627.9 167.2,626.9 180.5,625.2 189.8,623.1 199.5,620.3 208.8,616.7 217.7,613.1 227.4,609.8 236.5,606.8 245.3,604.7 255.5,602.6 264.3,601.3 273.8,600.5 283.3,600.5 301.7,601.3 320.0,601.3 339.4,601.3 348.5,600.9 357.6,599.8 367.5,599.8 376.4,597.7 385.4,596.0 394.5,595.0 404.4,593.9 413.5,592.4 422.6,591.8 432.5,592.4 441.4,593.9 450.5,596.7 460.4,599.2 469.5,601.3 478.5,604.1 488.5,605.1 497.5,605.1 506.6,604.7 516.3,602.6 525.4,600.5 534.5,597.7 544.4,594.1 553.5,590.8 562.6,587.6 572.5,584.0 581.6,581.9 590.6,579.8 600.6,577.0 609.6,575.8 619.5,574.9 628.6,574.5 637.7,573.4 646.5,573.9 656.4,574.9 665.5,576.0 674.6,577.0 684.5,578.1 693.6,579.4 702.7,580.8 712.6,582.5 721.7,585.1 730.5,587.2 740.5,589.3 749.5,592.0 758.6,595.0 768.5,597.1 777.6,598.8 786.7,599.8 796.6,600.9 805.7,601.3 814.6,601.3 824.5,600.9 833.6,598.8 842.6,597.7 852.6,596.7 861.6,594.1 870.7,591.8 880.6,588.6 889.7,585.7 898.6,583.6 910.0,581.3 920.0,579.8 926.3,578.7 936.3,578.7 945.3,578.7 954.4,579.8 964.3,580.8 973.4,582.9 982.5,584.0 992.4,584.0 1001.5,584.0 1010.6,582.9 1020.5,581.9 1029.4,580.8 1038.4,579.4 1047.5,578.1 1057.4,577.0 1066.5,575.6 1075.6,576.6 1085.5,578.1 1094.4,579.1 1103.5,580.2 1113.4,582.3 1122.5,584.4 1131.5,587.6 1141.5,590.3 1150.5,592.4 1159.6,594.6 1169.5,597.1 1178.4,598.1 1187.5,599.8 1197.4,601.9 1206.5,604.1 1214.9,606.2" fill="none" stroke="#cf5f50" stroke-width="1.15" stroke-linejoin="round"/>
<g shape-rendering="crispEdges">
<rect x="1065" y="703" width="3" height="43" fill="#ef4a36"/>
<rect x="1074" y="671" width="3" height="75" fill="#ef4a36"/>
<rect x="1084" y="702" width="3" height="44" fill="#54b874"/>
<rect x="1093" y="675" width="3" height="71" fill="#ef4a36"/>
<rect x="1102" y="683" width="3" height="63" fill="#54b874"/>
<rect x="1112" y="681" width="3" height="65" fill="#ef4a36"/>
<rect x="1121" y="696" width="3" height="50" fill="#54b874"/>
<rect x="1130" y="687" width="3" height="59" fill="#54b874"/>
<rect x="1140" y="690" width="3" height="56" fill="#ef4a36"/>
<rect x="1149" y="690" width="3" height="56" fill="#54b874"/>
<rect x="1158" y="699" width="3" height="47" fill="#54b874"/>
<rect x="1168" y="693" width="3" height="53" fill="#ef4a36"/>
<rect x="1177" y="680" width="3" height="66" fill="#54b874"/>
<rect x="1186" y="689" width="3" height="57" fill="#54b874"/>
<rect x="1196" y="706" width="3" height="40" fill="#ef4a36"/>
<rect x="1205" y="684" width="3" height="62" fill="#ef4a36"/>
<rect x="1214" y="724" width="3" height="22" fill="#ef4a36"/>
</g>
<g fill="#e6e6e6" font-weight="bold" font-size="12" letter-spacing="0.5">
<text x="1359" y="61.9">173.20</text>
<text x="1359" y="98.5">167.94</text>
<text x="1359" y="135.1">162.67</text>
<text x="1359" y="208.3">152.14</text>
<text x="1359" y="244.9">146.88</text>
<text x="1359" y="281.5">141.61</text>
<text x="1359" y="318.1">136.35</text>
<text x="1359" y="354.7">131.08</text>
<text x="1359" y="391.3">125.82</text>
<text x="1359" y="427.9">120.55</text>
<text x="1359" y="464.5">115.29</text>
<text x="1359" y="501.1">110.02</text>
<text x="1359" y="537.7">104.76</text>
<text x="1359" y="569">99.49</text>
</g>
<g fill="#e6e6e6" font-weight="bold" font-size="10.5" letter-spacing="0.3">
<text x="1359" y="581.3">5.04035</text>
<text x="1359" y="607.3">1.68012</text>
<text x="1359" y="640.3">-1.68012</text>
<text x="1359" y="668.1">-5.04035</text>
<text x="1359" y="681.3">50466332</text>
<text x="1359" y="712.3">25233166</text>
<text x="1359" y="745.3">0</text>
</g>
<g fill="#e6e6e6" font-weight="bold" font-size="12" letter-spacing="0.35">
<text x="40.0" y="758">2007.08.01</text>
<text x="170.0" y="758">2008.10.01</text>
<text x="301.0" y="758">2009.12.01</text>
<text x="431.0" y="758">2011.02.01</text>
<text x="562.0" y="758">2012.04.01</text>
<text x="693.0" y="758">2013.06.01</text>
<text x="823.0" y="758">2014.08.01</text>
<text x="954.0" y="758">2015.10.01</text>
<text x="1084.0" y="758">2016.12.01</text>
<text x="1215.0" y="758">2018.02.01</text>
</g>
<rect x="1309" y="100.3" width="42" height="15" fill="#e8412f"/>
<text x="1314" y="111.5" fill="#fff" font-weight="bold" font-size="10.5" letter-spacing="0.15">166.07</text>
<rect x="1309" y="158.4" width="42" height="15" fill="#e8412f"/>
<text x="1314" y="169.6" fill="#fff" font-weight="bold" font-size="10.5" letter-spacing="0.15">157.78</text>
<rect x="1309" y="228.4" width="42" height="15" fill="#e8412f"/>
<text x="1314" y="239.6" fill="#fff" font-weight="bold" font-size="10.5" letter-spacing="0.15">147.72</text>
<rect x="1309" y="289.3" width="42" height="15" fill="#e8412f"/>
<text x="1314" y="300.5" fill="#fff" font-weight="bold" font-size="10.5" letter-spacing="0.15">138.97</text>
<line x1="1309" y1="163.5" x2="1350" y2="163.5" stroke="#4e5c64" stroke-width="1" shape-rendering="crispEdges"/>
<path d="M1347.2 163.5 L1356 155 H1408 V172 H1356 Z" fill="#46545c"/>
<text x="1359" y="168" fill="#fff" font-weight="bold" font-size="12" letter-spacing="0.35">158.11</text>
<text x="1293.5" y="555" font-size="14.2" stroke-width="0.35" paint-order="stroke"><tspan fill="#f0922b" stroke="#f0922b">22</tspan><tspan fill="#a9b4bb" stroke="#a9b4bb">D </tspan><tspan fill="#f0922b" stroke="#f0922b">14</tspan><tspan fill="#a9b4bb" stroke="#a9b4bb">H</tspan></text>
<g fill="#8c8f91"><rect x="39" y="500.5" width="10" height="2.2"/><rect x="39" y="503.7" width="10" height="2.2"/><rect x="39" y="506.9" width="10" height="2.2"/></g>
<path d="M53 501.8 l6 6 m0 -6 l-6 6" stroke="#8c8f91" stroke-width="2.4" fill="none"/>
<text x="63" y="508.6" fill="#e4e4e4" font-weight="bold" font-size="10.2">Bollinger [20, 2]</text>
<g fill="#8c8f91"><rect x="39" y="514.6" width="10" height="2.2"/><rect x="39" y="517.8" width="10" height="2.2"/><rect x="39" y="521.0" width="10" height="2.2"/></g>
<path d="M53 515.9 l6 6 m0 -6 l-6 6" stroke="#8c8f91" stroke-width="2.4" fill="none"/>
<text x="63" y="522.7" fill="#e4e4e4" font-weight="bold" font-size="10.2">SMA [50, 0]</text>
<g fill="#8c8f91"><rect x="39" y="528.7" width="10" height="2.2"/><rect x="39" y="531.9" width="10" height="2.2"/><rect x="39" y="535.1" width="10" height="2.2"/></g>
<path d="M53 530.0 l6 6 m0 -6 l-6 6" stroke="#8c8f91" stroke-width="2.4" fill="none"/>
<text x="63" y="536.8" fill="#e4e4e4" font-weight="bold" font-size="10.2">SMA [200, 0]</text>
<g fill="#8c8f91"><rect x="39" y="628.7" width="10" height="2.2"/><rect x="39" y="631.9" width="10" height="2.2"/><rect x="39" y="635.1" width="10" height="2.2"/></g>
<path d="M53 630.0 l6 6 m0 -6 l-6 6" stroke="#8c8f91" stroke-width="2.4" fill="none"/>
<text x="63" y="636.8" fill="#e4e4e4" font-weight="bold" font-size="10.2">MACD [12, 26, 9]</text>
<g fill="#8c8f91"><rect x="39" y="727.7" width="10" height="2.2"/><rect x="39" y="730.9" width="10" height="2.2"/><rect x="39" y="734.1" width="10" height="2.2"/></g>
<path d="M53 729.0 l6 6 m0 -6 l-6 6" stroke="#8c8f91" stroke-width="2.4" fill="none"/>
<text x="63" y="735.8" fill="#e4e4e4" font-weight="bold" font-size="10.2">Volumen (real)</text>
<rect x="43" y="8" width="335" height="49" fill="#141f26"/>
<text x="46.5" y="27" fill="#e6e6e6" font-weight="bold" font-size="11">BUND10Y</text>
<text x="107" y="26.3" fill="#8b9da8" font-weight="bold" font-size="8.3" letter-spacing="0.15">CMD</text>
<path d="M133.3 22 h7.6 l-3.8 4.2 z" fill="#cfd3d6"/>
<text x="157.6" y="27" fill="#e6e6e6" font-weight="bold" font-size="11">MN</text>
<path d="M184.3 22 h7.6 l-3.8 4.2 z" fill="#cfd3d6"/>
<rect x="99" y="35.5" width="62" height="19" fill="#232c34"/>
<rect x="47" y="37" width="52" height="17" rx="2.5" fill="#e6412f"/>
<rect x="161" y="36" width="52" height="18" rx="2.5" fill="#4cae72"/>
<text x="73" y="49.2" fill="#fff" font-weight="bold" font-size="11.3" text-anchor="middle">158.11</text>
<text x="187" y="49.2" fill="#fff" font-weight="bold" font-size="11.3" text-anchor="middle">158.14</text>
<rect x="106" y="45" width="7" height="1" fill="#d0d4d7"/>
<text x="118" y="48.8" fill="#e0e0e0" font-weight="bold" font-size="10.5">0.50</text>
<path d="M149 45.5 h7 M152.5 42 v7" stroke="#d0d4d7" stroke-width="1" fill="none" shape-rendering="crispEdges"/>
<text x="222" y="49" fill="#dcdcdc" font-size="10.5" stroke="#dcdcdc" stroke-width="0.25">SL/TP</text>
<polyline points="266.4,49.3 271.2,44.9 274,47.1 278.8,43" fill="none" stroke="#aeb8be" stroke-width="1.2"/>
<circle cx="266.4" cy="49.3" r="1.2" fill="#aeb8be"/><circle cx="278.8" cy="43" r="1.2" fill="#aeb8be"/>
<g stroke="#aeb8be" stroke-width="1" fill="none" shape-rendering="crispEdges"><path d="M292.5 39 v13 M296.5 41 v12 M300.5 40 v10"/><rect x="291.5" y="42.5" width="2" height="6" fill="#141f26"/><rect x="295.5" y="44.5" width="2" height="6" fill="#141f26"/><rect x="299.5" y="43.5" width="2" height="4" fill="#141f26"/></g>
<path d="M306 52.5 v2.2 h-2.2 z" fill="#aeb8be"/>
<g stroke="#aeb8be" stroke-width="1.1" fill="none"><circle cx="318.6" cy="44.6" r="4.2"/><path d="M321.7 47.7 L325.5 51.5 M316.4 44.6 h4.4"/></g>
<g stroke="#aeb8be" stroke-width="1.1" fill="none"><circle cx="342.6" cy="44.6" r="4.2"/><path d="M345.7 47.7 L349.6 51.5 M340.4 44.6 h4.4 M342.6 42.4 v4.4"/></g>
<g stroke="#aeb8be" stroke-width="1.1" fill="none"><path d="M362.3 46.5 h12.6 M368.6 40.2 v12.6 M364.3 44.5 l-2 2 l2 2 M372.9 44.5 l2 2 l-2 2 M366.6 42.2 l2 -2 l2 2 M366.6 50.8 l2 2 l2 -2"/></g>
<path d="M378.2 52.5 v2.2 h-2.2 z" fill="#aeb8be"/>
<rect x="8.5" y="229.5" width="13" height="11" fill="none" stroke="#8fa3ae" stroke-width="1" shape-rendering="crispEdges"/>
<rect x="10" y="231" width="10" height="8" fill="#6f8a97"/>
<path d="M27.3 244.1 v2.8 h-2.8 z" fill="#aeb8be"/>
<rect x="3" y="255" width="24" height="1.5" fill="#05080a"/>
<text x="7" y="280" fill="#8fa3ae" font-size="17">f</text><text x="12.5" y="280" fill="#8fa3ae" font-size="11.5">(x)</text>
<path d="M9.5 301.5 h10 M14.5 296.5 v10" stroke="#8fa3ae" stroke-width="1" fill="none" shape-rendering="crispEdges"/>
<g stroke="#8fa3ae" stroke-width="1.1" fill="none"><path d="M11.3 330.8 L17.9 324.2"/><circle cx="10.5" cy="331.6" r="1.2"/><circle cx="18.7" cy="323.4" r="1.2"/></g>
<path d="M27.3 337.4 v2.8 h-2.8 z" fill="#aeb8be"/>
<rect x="9.5" y="349.5" width="10" height="8" fill="none" stroke="#8fa3ae" stroke-width="1" shape-rendering="crispEdges"/>
<path d="M27.3 363.0 v2.8 h-2.8 z" fill="#aeb8be"/>
<g stroke="#8fa3ae" stroke-width="1" fill="none"><path d="M12 377.5 h9 L11 386 h10 M12.5 382 h8"/></g><text x="8.5" y="379" fill="#8fa3ae" font-size="5" font-weight="bold">F</text>
<path d="M27.3 388.7 v2.8 h-2.8 z" fill="#aeb8be"/>
<g stroke="#8fa3ae" stroke-width="1" fill="none"><path d="M9 408 L20.5 401 M12.5 410.2 L15 401 M13.3 404.3 L20 403 M12.8 406.6 L20.3 406.3 M12.5 408.6 L20 409.6"/></g>
<path d="M27.3 415.3 v2.8 h-2.8 z" fill="#aeb8be"/>
<path d="M11 428.5 h7.4 M14.7 428.5 v7.4" stroke="#8fa3ae" stroke-width="1.2" fill="none"/>
<path d="M27.3 441.0 v2.8 h-2.8 z" fill="#aeb8be"/>
<rect x="3" y="452" width="24" height="1.5" fill="#05080a"/>
<g stroke="#8fa3ae" stroke-width="1" fill="none" shape-rendering="crispEdges"><path d="M10.5 465 v15 M14.5 465 v15 M18.5 468 v9"/><rect x="9.5" y="468.5" width="2" height="8" fill="#141f26"/><rect x="17.5" y="470.5" width="2" height="4" fill="#141f26"/></g>
<g stroke="#8fa3ae" stroke-width="1" fill="none" stroke-linejoin="round"><path d="M14.8 493.6 L21.2 496.7 L14.8 499.8 L8.4 496.7 Z M8.4 499.7 L14.8 502.8 L21.2 499.7 M8.4 502.7 L14.8 505.8 L21.2 502.7"/></g>
<path d="M27.3 508.6 v2.8 h-2.8 z" fill="#aeb8be"/>
<rect x="3" y="519" width="24" height="1.5" fill="#05080a"/>
<g stroke="#8fa3ae" stroke-width="1" fill="none"><path d="M11.2 539.6 L17.6 536.8 M11.2 540.9 L17.6 544.1"/><circle cx="9.7" cy="540.2" r="1.6"/><circle cx="19" cy="536.2" r="1.6"/><circle cx="19" cy="544.8" r="1.6"/></g>
</svg>
</body></html>
